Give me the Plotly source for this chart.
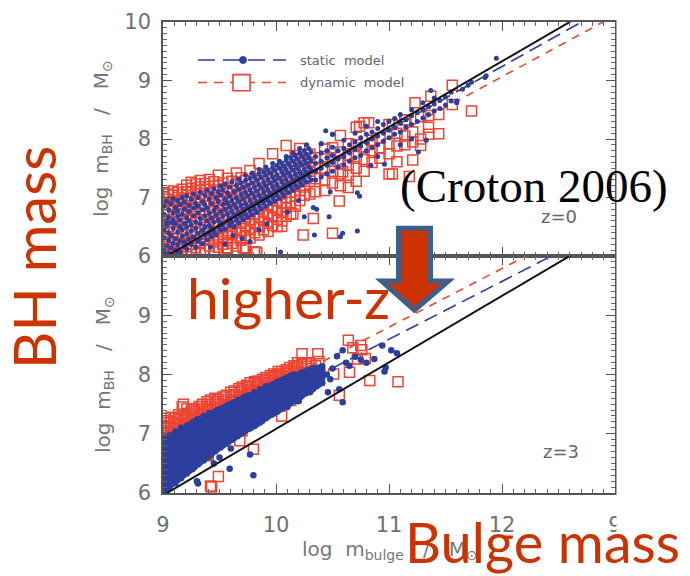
import plotly.graph_objects as go

# ---------------- data ----------------
x_tick_vals = [9, 10, 11, 12, 13]
x_tick_text = ["9", "10", "11", "12", "9"]
top_y_tick_vals = [6, 7, 8, 9, 10]
top_y_tick_text = ["6", "7", "8", "9", "10"]
bottom_y_tick_vals = [6, 7, 8, 9]
bottom_y_tick_text = ["6", "7", "8", "9"]

fit_x = [9.0, 13.0]
local_relation_y = [5.96, 10.45]          # solid black line (both panels)
top_static_fit_y = [6.00, 10.32]          # blue long-dashed, z=0
top_dynamic_fit_y = [5.93, 10.11]         # red dashed, z=0
bottom_static_fit_y = [6.64, 10.55]       # blue long-dashed, z=3
bottom_dynamic_fit_y = [6.82, 10.78]      # red dashed, z=3

# z = 0, static model (blue dots): columns (x, [y...]) plus scattered points
top_static_columns = [
    (9.01, [6.09, 6.31, 6.44, 6.71, 6.86]),
    (9.03, [6.18, 6.52, 6.6, 6.93]),
    (9.05, [6.05, 6.27, 6.4, 6.66, 6.79]),
    (9.07, [6.14, 6.35, 6.57, 6.9]),
    (9.09, [6.22, 6.47, 6.62, 6.74, 6.98]),
    (9.11, [6.1, 6.3, 6.55, 6.83]),
    (9.13, [6.19, 6.41, 6.68, 6.77, 6.95]),
    (9.15, [6.07, 6.26, 6.5, 6.61, 6.88]),
    (9.17, [6.34, 6.45, 6.72, 7.0]),
    (9.19, [6.16, 6.24, 6.56, 6.8, 6.92]),
    (9.21, [6.12, 6.38, 6.49, 6.66, 7.03]),
    (9.23, [6.29, 6.6, 6.76, 6.87]),
    (9.25, [6.2, 6.43, 6.53, 6.97]),
    (9.27, [6.33, 6.69, 6.82, 7.06]),
    (9.29, [6.15, 6.47, 6.58, 6.9]),
    (9.31, [6.25, 6.39, 6.74, 6.85, 7.0]),
    (9.33, [6.3, 6.55, 6.64, 7.09]),
    (9.35, [6.21, 6.44, 6.79, 6.93]),
    (9.37, [6.36, 6.5, 6.69, 6.88, 7.04]),
    (9.39, [6.28, 6.6, 6.82, 7.12]),
    (9.41, [6.4, 6.52, 6.73, 6.97]),
    (9.43, [6.33, 6.47, 6.65, 6.9, 7.07]),
    (9.45, [6.42, 6.58, 6.78, 7.15]),
    (9.47, [6.37, 6.7, 6.84, 7.0]),
    (9.49, [6.5, 6.62, 6.93, 7.1]),
    (9.51, [6.44, 6.57, 6.76, 7.04, 7.2]),
    (9.53, [6.53, 6.68, 6.88, 7.13]),
    (9.55, [6.46, 6.8, 6.97, 7.23]),
    (9.57, [6.6, 6.72, 6.91, 7.08]),
    (9.59, [6.52, 6.65, 6.84, 7.02, 7.18]),
    (9.61, [6.58, 6.77, 6.95, 7.27]),
    (9.63, [6.5, 6.7, 6.88, 7.1]),
    (9.65, [6.63, 6.82, 7.0, 7.21]),
    (9.67, [6.57, 6.74, 6.93, 7.14, 7.32]),
    (9.69, [6.68, 6.87, 7.05, 7.25]),
    (9.71, [6.62, 6.8, 6.98, 7.17]),
    (9.73, [6.72, 6.9, 7.09, 7.29, 7.38]),
    (9.75, [6.66, 6.84, 7.03, 7.21]),
    (9.77, [6.77, 6.95, 7.13, 7.33]),
    (9.79, [6.7, 6.88, 7.07, 7.25, 7.42]),
    (9.81, [6.81, 7.0, 7.18, 7.36]),
    (9.83, [6.75, 6.93, 7.11, 7.3]),
    (9.85, [6.86, 7.04, 7.22, 7.4, 7.48]),
    (9.87, [6.8, 6.98, 7.16, 7.34]),
    (9.89, [6.91, 7.09, 7.26, 7.44]),
    (9.91, [6.85, 7.02, 7.2, 7.38, 7.52]),
    (9.93, [6.95, 7.13, 7.31, 7.47]),
    (9.95, [6.9, 7.07, 7.25, 7.42]),
    (9.97, [7.0, 7.18, 7.35, 7.51, 7.58]),
    (9.99, [6.94, 7.12, 7.29, 7.46]),
    (10.01, [7.04, 7.22, 7.39, 7.55]),
    (10.03, [6.98, 7.16, 7.33, 7.5, 7.62]),
    (10.05, [7.09, 7.27, 7.44, 7.59]),
    (10.07, [7.03, 7.21, 7.38, 7.54]),
    (10.09, [7.13, 7.31, 7.48, 7.64, 7.7]),
    (10.11, [7.08, 7.25, 7.42, 7.58]),
    (10.13, [7.18, 7.36, 7.52, 7.68]),
    (10.15, [7.12, 7.3, 7.47, 7.62, 7.76]),
    (10.17, [7.22, 7.4, 7.56, 7.72]),
    (10.19, [7.17, 7.34, 7.51, 7.66]),
    (10.21, [7.27, 7.44, 7.6, 7.76, 7.84]),
    (10.23, [7.21, 7.39, 7.55, 7.7]),
    (10.25, [7.31, 7.48, 7.64, 7.8]),
    (10.27, [7.26, 7.43, 7.59, 7.74, 7.9]),
    (10.29, [7.36, 7.52, 7.68, 7.84]),
    (10.31, [7.3, 7.47, 7.63, 7.78]),
    (10.35, [7.3, 7.45, 7.58, 7.7]),
    (10.40, [7.35, 7.5, 7.62, 7.76, 7.92]),
    (10.45, [7.4, 7.55, 7.68, 7.8]),
    (10.50, [7.45, 7.6, 7.72, 7.86, 8.08]),
    (10.55, [7.52, 7.66, 7.8]),
    (10.60, [7.56, 7.7, 7.84, 7.98]),
    (10.65, [7.62, 7.76, 7.9]),
    (10.70, [7.68, 7.82, 7.95, 8.1]),
    (10.75, [7.72, 7.88, 8.02]),
    (10.80, [7.8, 7.94, 8.08, 8.22]),
    (10.85, [7.85, 8.0, 8.12]),
    (10.90, [7.9, 8.05, 8.18, 8.3]),
    (10.95, [7.96, 8.1, 8.25]),
    (11.00, [8.02, 8.15, 8.3]),
    (11.05, [8.08, 8.2, 8.35]),
    (11.10, [8.12, 8.27, 8.42]),
    (11.15, [8.2, 8.33]),
    (11.20, [8.25, 8.4, 8.5]),
    (11.25, [8.3, 8.45]),
    (11.30, [8.36, 8.5, 8.62]),
    (11.35, [8.42, 8.55]),
    (11.40, [8.48, 8.6, 8.7]),
    (11.45, [8.52, 8.66]),
    (11.50, [8.58, 8.72]),
    (11.55, [8.65, 8.8]),
    (11.60, [8.62]),
    (11.65, [8.85]),
    (11.70, [8.92]),
    (11.85, [9.05]),
    (11.95, [9.38]),
]
top_static_points = [
    (10.44, 8.14), (10.50, 8.08), (10.40, 7.92), (10.72, 7.08), (10.74, 7.02),
    (10.47, 6.67), (10.33, 6.83), (10.36, 6.80), (10.25, 6.67), (10.34, 6.36),
    (10.57, 6.33), (10.72, 6.43), (10.04, 6.07), (10.96, 7.57), (10.84, 7.55),
    (11.26, 7.78), (11.33, 7.98), (10.59, 6.39), (9.77, 6.25), (10.90, 7.70),
    (11.10, 7.90), (11.20, 8.00), (11.73, 8.97), (11.86, 9.08), (11.37, 8.83),
    (11.60, 8.65), (10.20, 6.95), (10.48, 7.10), (9.55, 6.2), (9.62, 6.35),
    (9.70, 6.3), (9.85, 6.45), (9.92, 6.55), (10.1, 6.75), (9.42, 6.15),
    (9.02, 6.02), (9.12, 6.05),
]

# z = 0, dynamic model (red open squares)
top_dynamic_columns = [
    (9.01, [6.03, 6.12, 6.25, 6.33, 6.47, 6.56, 6.71, 6.79, 6.92, 7.01, 7.08]),
    (9.05, [6.08, 6.21, 6.29, 6.5, 6.62, 6.77, 6.88, 6.97, 7.06]),
    (9.09, [6.02, 6.15, 6.24, 6.41, 6.58, 6.68, 6.84, 6.93, 7.04, 7.11]),
    (9.13, [6.06, 6.19, 6.31, 6.46, 6.7, 6.8, 6.9, 7.0, 7.09]),
    (9.17, [6.11, 6.22, 6.37, 6.55, 6.63, 6.76, 6.95, 7.05, 7.14]),
    (9.21, [6.04, 6.16, 6.28, 6.43, 6.61, 6.72, 6.86, 6.99, 7.1, 7.21]),
    (9.25, [6.09, 6.2, 6.35, 6.52, 6.67, 6.8, 6.92, 7.03, 7.16, 7.26]),
    (9.29, [6.14, 6.26, 6.4, 6.58, 6.74, 6.89, 7.0, 7.12, 7.23]),
    (9.33, [6.06, 6.21, 6.32, 6.49, 6.62, 6.79, 6.97, 7.07, 7.18, 7.29]),
    (9.37, [6.11, 6.27, 6.38, 6.55, 6.7, 6.85, 7.02, 7.14, 7.24]),
    (9.41, [6.17, 6.3, 6.44, 6.59, 6.76, 6.93, 7.08, 7.19, 7.31]),
    (9.45, [6.1, 6.24, 6.36, 6.51, 6.66, 6.83, 6.99, 7.13, 7.27]),
    (9.49, [6.15, 6.29, 6.42, 6.57, 6.73, 6.87, 7.04, 7.2, 7.38]),
    (9.53, [6.2, 6.34, 6.48, 6.63, 6.79, 6.95, 7.1, 7.25]),
    (9.57, [6.13, 6.26, 6.4, 6.54, 6.69, 6.84, 7.0, 7.16, 7.33]),
    (9.61, [6.22, 6.37, 6.51, 6.66, 6.8, 6.97, 7.12, 7.28]),
    (9.65, [6.17, 6.31, 6.45, 6.6, 6.75, 6.91, 7.06, 7.22, 7.42]),
    (9.69, [6.27, 6.41, 6.56, 6.71, 6.86, 7.02, 7.18, 7.34]),
    (9.73, [6.13, 6.35, 6.5, 6.64, 6.8, 6.96, 7.12, 7.29]),
    (9.77, [6.31, 6.45, 6.6, 6.76, 6.91, 7.07, 7.24, 7.46]),
    (9.81, [6.07, 6.4, 6.55, 6.7, 6.85, 7.01, 7.17, 7.33]),
    (9.85, [6.36, 6.5, 6.65, 6.8, 6.96, 7.12, 7.29, 7.58]),
    (9.89, [6.45, 6.6, 6.75, 6.9, 7.06, 7.23, 7.4]),
    (9.93, [6.42, 6.56, 6.71, 6.86, 7.02, 7.18, 7.35]),
    (9.97, [6.52, 6.67, 6.82, 6.98, 7.14, 7.31, 7.75]),
    (10.01, [6.5, 6.63, 6.78, 6.94, 7.1, 7.27, 7.44]),
    (10.05, [6.6, 6.74, 6.9, 7.06, 7.23, 7.4]),
    (10.09, [6.68, 6.83, 6.99, 7.16, 7.34, 7.52, 7.89]),
    (10.13, [6.72, 6.92, 7.09, 7.27, 7.45, 7.62]),
    (10.17, [6.85, 7.02, 7.2, 7.38, 7.56, 7.72]),
    (10.21, [6.95, 7.12, 7.3, 7.5, 7.66, 7.84]),
    (10.25, [7.04, 7.18, 7.34, 7.5, 7.64]),
    (10.30, [7.06, 7.28, 7.45, 7.6, 7.74]),
    (10.35, [7.1, 7.32, 7.5, 7.68]),
    (10.43, [7.12, 7.3, 7.5, 7.7, 7.83]),
    (10.50, [7.25, 7.45, 7.62, 7.85]),
    (10.57, [7.2, 7.4, 7.58, 7.78, 8.06]),
    (10.64, [7.17, 7.38, 7.55, 7.72, 7.92]),
    (10.71, [7.28, 7.5, 7.7, 7.9, 8.2]),
    (10.78, [7.45, 7.65, 7.85, 8.28]),
    (10.85, [7.6, 7.8, 7.98]),
    (10.92, [7.67, 7.85, 8.02]),
    (11.00, [7.4, 7.75, 7.92, 8.25]),
    (11.07, [7.61, 7.88, 8.1]),
    (11.14, [7.9, 8.05, 8.33]),
    (11.21, [7.64, 7.95, 8.12]),
    (11.28, [7.89, 8.0, 8.38]),
    (11.35, [8.08, 8.2, 8.4]),
    (11.44, [8.09, 8.42]),
    (11.56, [8.59, 8.92]),
]
top_dynamic_points = [
    (11.37, 8.73), (11.23, 8.62), (11.73, 8.48), (10.33, 6.64), (10.24, 6.36),
    (10.50, 6.39), (10.05, 6.51), (9.81, 6.07), (10.56, 6.94), (10.59, 7.44),
    (11.03, 7.40), (11.18, 7.36), (9.83, 6.06), (9.71, 6.14), (9.56, 6.14),
    (10.15, 6.72), (10.74, 8.22), (10.82, 8.28), (11.03, 8.25), (11.15, 8.33),
]

# z = 3, static model (blue dots)
bottom_static_columns = [
    (9.01, [6.02, 6.12, 6.22, 6.32, 6.42, 6.52, 6.62, 6.72, 6.82, 6.92]),
    (9.03, [6.07, 6.17, 6.27, 6.37, 6.47, 6.57, 6.67, 6.77, 6.87]),
    (9.06, [6.1, 6.2, 6.3, 6.4, 6.5, 6.6, 6.7, 6.8, 6.9, 6.98]),
    (9.08, [6.15, 6.25, 6.35, 6.45, 6.55, 6.65, 6.75, 6.85, 6.95]),
    (9.11, [6.17, 6.27, 6.37, 6.47, 6.57, 6.67, 6.77, 6.87, 6.97, 7.04]),
    (9.13, [6.22, 6.32, 6.42, 6.52, 6.62, 6.72, 6.82, 6.92, 7.02]),
    (9.16, [6.25, 6.35, 6.45, 6.55, 6.65, 6.75, 6.85, 6.95, 7.05, 7.1]),
    (9.18, [6.3, 6.4, 6.5, 6.6, 6.7, 6.8, 6.9, 7.0, 7.08]),
    (9.21, [6.33, 6.43, 6.53, 6.63, 6.73, 6.83, 6.93, 7.03, 7.13]),
    (9.23, [6.37, 6.47, 6.57, 6.67, 6.77, 6.87, 6.97, 7.07, 7.15]),
    (9.26, [6.4, 6.5, 6.6, 6.7, 6.8, 6.9, 7.0, 7.1, 7.19]),
    (9.28, [6.44, 6.54, 6.64, 6.74, 6.84, 6.94, 7.04, 7.13, 7.21]),
    (9.31, [6.48, 6.58, 6.68, 6.78, 6.88, 6.98, 7.08, 7.17, 7.25]),
    (9.33, [6.52, 6.62, 6.72, 6.82, 6.92, 7.02, 7.12, 7.21]),
    (9.36, [6.55, 6.65, 6.75, 6.85, 6.95, 7.05, 7.15, 7.24, 7.3]),
    (9.38, [6.59, 6.69, 6.79, 6.89, 6.99, 7.09, 7.19, 7.27]),
    (9.41, [6.62, 6.72, 6.82, 6.92, 7.02, 7.12, 7.21, 7.3, 7.35]),
    (9.43, [6.66, 6.76, 6.86, 6.96, 7.06, 7.16, 7.25, 7.33]),
    (9.46, [6.7, 6.8, 6.9, 7.0, 7.1, 7.19, 7.28, 7.37]),
    (9.48, [6.74, 6.84, 6.94, 7.04, 7.13, 7.22, 7.31, 7.4]),
    (9.51, [6.77, 6.87, 6.97, 7.07, 7.16, 7.25, 7.34, 7.42]),
    (9.53, [6.8, 6.9, 7.0, 7.1, 7.19, 7.28, 7.37, 7.44]),
    (9.56, [6.83, 6.93, 7.03, 7.12, 7.21, 7.3, 7.39, 7.47]),
    (9.58, [6.86, 6.96, 7.06, 7.15, 7.24, 7.33, 7.42, 7.49]),
    (9.61, [6.9, 7.0, 7.09, 7.18, 7.27, 7.36, 7.44, 7.51]),
    (9.63, [6.93, 7.03, 7.12, 7.21, 7.3, 7.39, 7.47, 7.53]),
    (9.66, [6.96, 7.06, 7.15, 7.24, 7.33, 7.42, 7.5, 7.56]),
    (9.68, [6.99, 7.09, 7.18, 7.27, 7.36, 7.44, 7.52, 7.58]),
    (9.71, [7.02, 7.12, 7.21, 7.3, 7.39, 7.47, 7.55, 7.61]),
    (9.73, [7.05, 7.15, 7.24, 7.33, 7.42, 7.5, 7.57, 7.63]),
    (9.76, [7.08, 7.18, 7.27, 7.36, 7.44, 7.52, 7.6, 7.65]),
    (9.78, [7.1, 7.2, 7.29, 7.38, 7.47, 7.55, 7.62]),
    (9.81, [7.13, 7.23, 7.32, 7.41, 7.5, 7.58, 7.65, 7.7]),
    (9.83, [7.16, 7.26, 7.35, 7.44, 7.52, 7.6, 7.67]),
    (9.86, [7.19, 7.29, 7.38, 7.47, 7.55, 7.63, 7.7, 7.75]),
    (9.88, [7.22, 7.32, 7.41, 7.5, 7.58, 7.66, 7.73]),
    (9.91, [7.26, 7.35, 7.44, 7.53, 7.61, 7.69, 7.76, 7.8]),
    (9.93, [7.29, 7.38, 7.47, 7.56, 7.64, 7.72, 7.79]),
    (9.96, [7.32, 7.41, 7.5, 7.59, 7.67, 7.75, 7.82]),
    (9.98, [7.34, 7.43, 7.52, 7.61, 7.69, 7.77, 7.84]),
    (10.01, [7.37, 7.46, 7.55, 7.64, 7.72, 7.8, 7.87]),
    (10.03, [7.4, 7.49, 7.58, 7.66, 7.74, 7.82, 7.89]),
    (10.06, [7.43, 7.52, 7.61, 7.69, 7.77, 7.85, 7.91]),
    (10.08, [7.46, 7.55, 7.64, 7.72, 7.8, 7.87, 7.93]),
    (10.11, [7.49, 7.58, 7.67, 7.75, 7.83, 7.9, 7.96]),
    (10.13, [7.52, 7.61, 7.7, 7.78, 7.86, 7.93, 7.98]),
    (10.16, [7.55, 7.64, 7.73, 7.81, 7.88, 7.95, 8.0]),
    (10.18, [7.58, 7.67, 7.76, 7.84, 7.91, 7.97]),
    (10.21, [7.61, 7.7, 7.79, 7.87, 7.94, 8.01]),
    (10.23, [7.64, 7.73, 7.82, 7.9, 7.96, 8.03]),
    (10.26, [7.68, 7.77, 7.85, 7.92, 7.99, 8.05]),
    (10.28, [7.7, 7.79, 7.87, 7.95, 8.01, 8.07]),
    (10.31, [7.73, 7.82, 7.9, 7.97, 8.04, 8.09]),
    (10.33, [7.76, 7.85, 7.93, 8.0, 8.06, 8.11]),
    (10.36, [7.8, 7.88, 7.96, 8.03, 8.09]),
    (10.38, [7.83, 7.91, 7.99, 8.06, 8.12]),
    (10.41, [7.86, 7.94, 8.02, 8.08, 8.14]),
]
bottom_static_points = [
    (10.59, 8.41), (10.54, 8.31), (10.62, 8.20), (10.94, 8.49), (11.02, 8.41),
    (11.07, 8.36), (10.96, 8.05), (10.97, 8.12), (10.87, 8.26), (10.59, 7.53),
    (10.56, 7.75), (10.46, 7.70), (10.50, 8.10), (10.30, 7.70), (9.77, 6.65),
    (9.80, 6.30), (9.59, 6.41), (9.31, 6.16), (9.30, 6.20), (10.20, 7.55),
    (10.10, 7.45), (9.60, 6.75), (9.50, 6.60), (9.45, 6.50), (10.65, 8.15),
    (10.70, 8.30), (10.75, 8.25), (10.80, 8.20), (10.45, 8.0), (10.48, 7.92),
]

# z = 3, dynamic model (red open squares)
bottom_dynamic_columns = [
    (9.01, [6.25, 6.45, 6.62, 6.7, 6.78, 6.86, 6.94, 7.02, 7.1, 7.18, 7.26]),
    (9.04, [6.74, 6.82, 6.9, 6.98, 7.06, 7.14, 7.22]),
    (9.07, [6.55, 6.72, 6.8, 6.88, 6.96, 7.04, 7.12, 7.2, 7.28]),
    (9.11, [6.78, 6.86, 6.94, 7.02, 7.1, 7.18, 7.26]),
    (9.14, [6.4, 6.76, 6.84, 6.92, 7.0, 7.08, 7.16, 7.24, 7.32]),
    (9.18, [6.82, 6.9, 6.98, 7.06, 7.14, 7.22, 7.3, 7.5]),
    (9.21, [6.86, 6.94, 7.02, 7.1, 7.18, 7.26, 7.34, 7.42]),
    (9.25, [6.5, 6.9, 6.98, 7.06, 7.14, 7.22, 7.3, 7.38]),
    (9.28, [6.94, 7.02, 7.1, 7.18, 7.26, 7.34, 7.42]),
    (9.32, [6.6, 6.98, 7.06, 7.14, 7.22, 7.3, 7.38, 7.46]),
    (9.35, [7.02, 7.1, 7.18, 7.26, 7.34, 7.42, 7.5]),
    (9.39, [6.65, 7.06, 7.14, 7.22, 7.3, 7.38, 7.46, 7.54]),
    (9.42, [7.1, 7.18, 7.26, 7.34, 7.42, 7.5, 7.57]),
    (9.46, [7.14, 7.22, 7.3, 7.38, 7.46, 7.54, 7.6]),
    (9.49, [7.18, 7.26, 7.34, 7.42, 7.5, 7.58]),
    (9.53, [7.22, 7.3, 7.38, 7.46, 7.54, 7.62]),
    (9.56, [6.95, 7.26, 7.34, 7.42, 7.5, 7.58, 7.65]),
    (9.60, [7.3, 7.38, 7.46, 7.54, 7.62, 7.7]),
    (9.63, [7.34, 7.42, 7.5, 7.58, 7.66, 7.72]),
    (9.67, [7.38, 7.46, 7.54, 7.62, 7.7, 7.76]),
    (9.70, [7.05, 7.42, 7.5, 7.58, 7.66, 7.74, 7.79]),
    (9.74, [7.46, 7.54, 7.62, 7.7, 7.78, 7.82]),
    (9.77, [7.5, 7.58, 7.66, 7.74, 7.81, 7.86]),
    (9.81, [7.54, 7.62, 7.7, 7.78, 7.85, 7.88]),
    (9.84, [7.58, 7.66, 7.74, 7.82, 7.89]),
    (9.88, [7.35, 7.62, 7.7, 7.78, 7.86, 7.92]),
    (9.91, [7.66, 7.74, 7.82, 7.9, 7.95]),
    (9.95, [7.7, 7.78, 7.86, 7.94, 7.98]),
    (9.98, [7.74, 7.82, 7.9, 7.97, 8.01]),
    (10.02, [7.78, 7.86, 7.94, 8.01, 8.05]),
    (10.05, [7.3, 7.82, 7.9, 7.98, 8.05]),
    (10.09, [7.62, 7.86, 7.94, 8.02, 8.08]),
    (10.12, [7.9, 7.98, 8.06, 8.12]),
    (10.16, [7.94, 8.02, 8.1, 8.15]),
    (10.19, [7.98, 8.06, 8.13, 8.2]),
    (10.23, [8.02, 8.1, 8.17, 8.35]),
    (10.27, [8.06, 8.14, 8.2]),
    (10.31, [8.1, 8.18]),
]
bottom_dynamic_points = [
    (10.37, 8.35), (10.38, 8.22), (10.35, 8.15), (10.64, 8.58),
    (10.68, 8.45), (10.75, 8.49), (10.76, 8.42), (10.72, 8.26), (10.79, 8.27),
    (10.51, 8.01), (10.65, 8.04), (10.83, 7.90), (11.08, 7.88), (10.56, 7.65),
    (10.38, 7.90), (10.13, 7.56), (9.84, 7.27), (9.68, 6.88),
    (9.80, 6.74), (9.49, 6.28), (9.42, 6.12), (9.43, 6.10), (9.17, 7.45),
    (9.27, 7.42), (9.34, 7.46), (9.08, 6.21), (9.24, 6.49), (9.40, 6.63),
]


def flatten(columns, points):
    xs, ys = [], []
    for x, col in columns:
        for y in col:
            xs.append(x)
            ys.append(y)
    for x, y in points:
        xs.append(x)
        ys.append(y)
    return xs, ys


top_static_x, top_static_y = flatten(top_static_columns, top_static_points)
top_dynamic_x, top_dynamic_y = flatten(top_dynamic_columns, top_dynamic_points)
bottom_static_x, bottom_static_y = flatten(bottom_static_columns, bottom_static_points)
bottom_dynamic_x, bottom_dynamic_y = flatten(bottom_dynamic_columns, bottom_dynamic_points)

# ---------------- styling ----------------
W, H = 690, 576
ML, MR, MT, MB = 163, 75, 10, 83
PW, PH = W - ML - MR, H - MT - MB
SPLIT_PX = 250


def px(xp):
    return (xp - ML) / PW


def py(yp):
    return (H - MB - yp) / PH


BLUE = "#2c3e9e"
RED = "#ee4433"
TICK_GREY = "#707070"
AXIS_GREY = "#555555"
ORANGE = "#cc3300"
BLUE_DASH = "14px,7px"
RED_DASH = "8px,7px"
SANS = "DejaVu Sans, Liberation Sans, sans-serif"

fig = go.Figure()

panels = [
    ("x", "y", top_static_fit_y, top_dynamic_fit_y, top_dynamic_x, top_dynamic_y, top_static_x, top_static_y, 5),
    ("x2", "y2", bottom_static_fit_y, bottom_dynamic_fit_y, bottom_dynamic_x, bottom_dynamic_y, bottom_static_x, bottom_static_y, 6.5),
]
for xa, ya, sfit, dfit, dx, dy, sx, sy, dot in panels:
    fig.add_trace(go.Scatter(x=fit_x, y=sfit, mode="lines", xaxis=xa, yaxis=ya,
                             line=dict(color=BLUE, width=1.6, dash=BLUE_DASH), showlegend=False))
    fig.add_trace(go.Scatter(x=fit_x, y=dfit, mode="lines", xaxis=xa, yaxis=ya,
                             line=dict(color=RED, width=1.6, dash=RED_DASH), showlegend=False))
    fig.add_trace(go.Scatter(x=dx, y=dy, mode="markers", xaxis=xa, yaxis=ya,
                             marker=dict(symbol="square-open", size=10, color=RED, line=dict(width=1.5, color=RED)),
                             showlegend=False))
    fig.add_trace(go.Scatter(x=sx, y=sy, mode="markers", xaxis=xa, yaxis=ya,
                             marker=dict(symbol="circle", size=dot, color=BLUE, line=dict(width=0)),
                             showlegend=False))
    fig.add_trace(go.Scatter(x=fit_x, y=local_relation_y, mode="lines", xaxis=xa, yaxis=ya,
                             line=dict(color="#111111", width=2), showlegend=False))

tickfont = dict(family=SANS, size=21, color=TICK_GREY)
minor = dict(ticks="inside", ticklen=4, tickwidth=1, tickcolor="#666666", tickmode="linear", tick0=0, dtick=0.1, showgrid=False)
common = dict(showline=True, linecolor=AXIS_GREY, linewidth=1.5, mirror="allticks", ticks="inside",
              ticklen=9, tickwidth=1.3, tickcolor=AXIS_GREY, showgrid=False, zeroline=False,
              tickfont=tickfont, minor=minor, fixedrange=True)

split = py(SPLIT_PX)
fig.update_layout(
    width=W, height=H, margin=dict(l=ML, r=MR, t=MT, b=MB),
    paper_bgcolor="white", plot_bgcolor="white", showlegend=False,
    xaxis=dict(domain=[0, 1], range=[9, 13], anchor="y", tickvals=x_tick_vals, showticklabels=False, **common),
    yaxis=dict(domain=[split, 1], range=[6, 10], anchor="x", tickvals=top_y_tick_vals, ticktext=top_y_tick_text,
               ticklabelstandoff=6, **common),
    xaxis2=dict(domain=[0, 1], range=[9, 13], anchor="y2", tickvals=x_tick_vals, ticktext=x_tick_text,
                ticklabelstandoff=12, **common),
    yaxis2=dict(domain=[0, split], range=[6, 10], anchor="x2", tickvals=bottom_y_tick_vals, ticktext=bottom_y_tick_text,
                ticklabelstandoff=6, **common),
)

shapes = []
# white cover right of the plot (original figure was cropped here)
shapes.append(dict(type="rect", xref="paper", yref="paper", x0=px(616.5), x1=px(700), y0=py(600), y1=py(-10),
                   fillcolor="white", line=dict(width=0), layer="above"))
# legend
shapes.append(dict(type="line", xref="paper", yref="paper", x0=px(198), x1=px(286), y0=py(49), y1=py(49),
                   line=dict(color=BLUE, width=1.6, dash="17px,8px"), layer="above"))
shapes.append(dict(type="circle", xref="paper", yref="paper", x0=px(239.5), x1=px(246.5), y0=py(52.5), y1=py(45.5),
                   fillcolor=BLUE, line=dict(color=BLUE, width=1), layer="above"))
shapes.append(dict(type="line", xref="paper", yref="paper", x0=px(198), x1=px(286), y0=py(72), y1=py(72),
                   line=dict(color=RED, width=1.6, dash="9px,7px"), layer="above"))
shapes.append(dict(type="rect", xref="paper", yref="paper", x0=px(233), x1=px(250), y0=py(80.5), y1=py(64),
                   fillcolor="white", line=dict(color=RED, width=1.6), layer="above"))
# big arrow
arrow_pts = [(398.5, 221.5), (430.5, 221.5), (430.5, 275.5), (448.5, 275.5), (414.5, 305.5),
             (381.5, 275.5), (398.5, 275.5)]
path = "M " + " L ".join(f"{px(a):.5f},{py(b):.5f}" for a, b in arrow_pts) + " Z"
shapes.append(dict(type="path", xref="paper", yref="paper", path=path, fillcolor=ORANGE,
                   line=dict(color="#3f5d8b", width=5), layer="above"))
fig.update_layout(shapes=shapes)

ann = []
small = dict(family=SANS, color="#666666")
title_font = dict(size=20, family=SANS, color="#777777")
ann.append(dict(x=px(298), y=py(49), text="static  model", xanchor="left",
                font=dict(size=13, **small)))
ann.append(dict(x=px(298), y=py(72), text="dynamic  model", xanchor="left",
                font=dict(size=13, **small)))
ann.append(dict(x=px(559), y=py(209), text="z=0", font=dict(size=18, **small)))
ann.append(dict(x=px(561), y=py(450), text="z=3", font=dict(size=18, **small)))
ytitle = "log  m<sub>BH</sub>   /   M<sub>⊙</sub>"
ann.append(dict(x=px(102), y=py(130), text=ytitle, textangle=-90, font=title_font))
ann.append(dict(x=px(104), y=py(372), text=ytitle, textangle=-90, font=title_font))
ann.append(dict(x=px(390), y=py(551), text="log  m<sub>bulge</sub>   /   M<sub>⊙</sub>", font=title_font))
ann.append(dict(x=px(534), y=py(178), text="(Croton 2006)",
                font=dict(size=47, family="Liberation Serif, Times New Roman, serif", color="black")))
big = dict(family="Lato, Open Sans, sans-serif", color=ORANGE)
ann.append(dict(x=px(34), y=py(252), text="BH mass", textangle=-90, font=dict(size=58, **big)))
ann.append(dict(x=px(288), y=py(292), text="higher-z", font=dict(size=57, **big)))
ann.append(dict(x=px(542), y=py(543), text="Bulge mass", font=dict(size=56, **big)))
for a in ann:
    a.setdefault("xanchor", "center")
    a.setdefault("yanchor", "middle")
    a.update(xref="paper", yref="paper", showarrow=False)
fig.update_layout(annotations=ann)

fig.write_html("out.html")
